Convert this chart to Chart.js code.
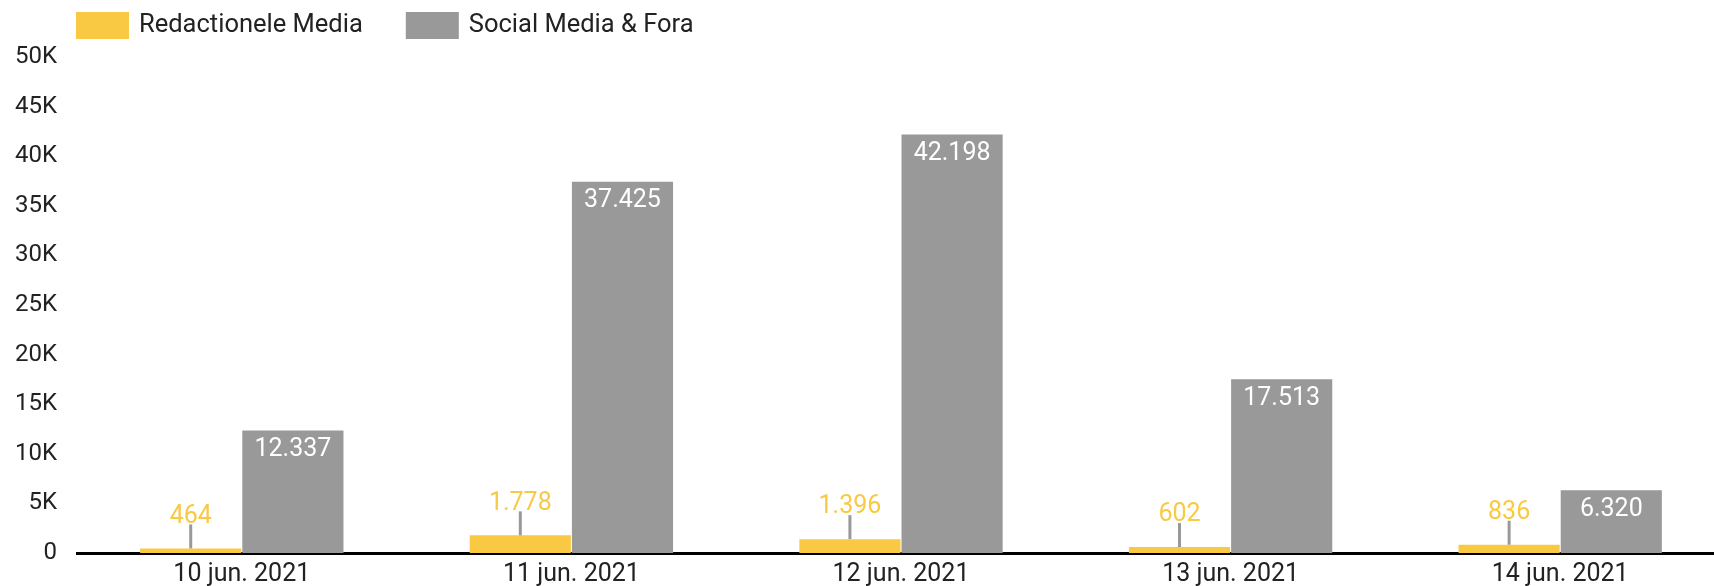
<!DOCTYPE html>
<html>
<head>
<meta charset="utf-8">
<script src="https://cdn.jsdelivr.net/npm/chart.js@4"></script>
<style>
  html, body { margin: 0; padding: 0; background: #fff; overflow: hidden; }
  #wrap { width: 1714px; height: 586px; overflow: hidden; }
</style>
</head>
<body>
<div id="wrap"><canvas id="mediaChart" width="1725" height="586"></canvas></div>
<script>
const categories = ['10 jun. 2021', '11 jun. 2021', '12 jun. 2021', '13 jun. 2021', '14 jun. 2021'];
const seriesNames = ['Redactionele Media', 'Social Media & Fora'];
const redactioneleMedia = [464, 1778, 1396, 602, 836];
const socialMediaFora = [12337, 37425, 42198, 17513, 6320];
const yTicks = [0, 5000, 10000, 15000, 20000, 25000, 30000, 35000, 40000, 45000, 50000];

const YELLOW = '#F9C943';
const GREY = '#999999';
const FONT = 'Roboto, "Noto Sans", sans-serif';

// dutch thousands separator
const fmt = (v) => String(v).replace(/\B(?=(\d{3})+(?!\d))/g, '.');

// legend drawn by hand so it can sit exactly where the reference has it
const legendPlugin = {
  id: 'topLegend',
  afterDraw(chart) {
    const ctx = chart.ctx;
    ctx.save();
    ctx.font = '25.5px ' + FONT;
    ctx.textBaseline = 'middle';
    let x = 76;
    chart.data.datasets.forEach((ds) => {
      ctx.fillStyle = ds.backgroundColor;
      ctx.fillRect(x, 12, 53, 27);
      ctx.fillStyle = '#222';
      ctx.fillText(ds.label, x + 63, 26);
      x += 63 + ctx.measureText(ds.label).width + 43;
    });
    ctx.restore();
  }
};

// value labels: yellow above the bar with a leader line, grey inside the bar top
const valueLabels = {
  id: 'valueLabels',
  afterDatasetsDraw(chart) {
    const ctx = chart.ctx;
    ctx.save();
    ctx.font = '25px ' + FONT;
    ctx.textAlign = 'center';
    ctx.textBaseline = 'middle';
    chart.data.datasets.forEach((ds, di) => {
      const meta = chart.getDatasetMeta(di);
      meta.data.forEach((bar, i) => {
        const txt = fmt(ds.data[i]);
        if (di === 0) {
          ctx.strokeStyle = GREY;
          ctx.lineWidth = 3;
          ctx.beginPath();
          ctx.moveTo(bar.x, bar.y);
          ctx.lineTo(bar.x, bar.y - 24);
          ctx.stroke();
          ctx.fillStyle = YELLOW;
          ctx.fillText(txt, bar.x, bar.y - 32);
        } else {
          ctx.fillStyle = '#fff';
          ctx.fillText(txt, bar.x, bar.y + 19);
        }
      });
    });
    ctx.restore();
  }
};

new Chart(document.getElementById('mediaChart').getContext('2d'), {
  type: 'bar',
  data: {
    labels: categories,
    datasets: [
      { label: seriesNames[0], data: redactioneleMedia, backgroundColor: YELLOW },
      { label: seriesNames[1], data: socialMediaFora, backgroundColor: GREY }
    ]
  },
  options: {
    responsive: false,
    devicePixelRatio: 1,
    animation: false,
    layout: { padding: { top: 57, left: 15, right: 0, bottom: 0 } },
    datasets: { bar: { categoryPercentage: 0.62, barPercentage: 0.99 } },
    plugins: {
      legend: { display: false },
      tooltip: { enabled: false }
    },
    scales: {
      x: {
        grid: { display: false, drawTicks: false },
        border: { display: true, color: '#000', width: 3 },
        ticks: { color: '#222', font: { family: FONT, size: 25, lineHeight: 1.12 }, padding: 8, maxRotation: 0 },
        afterFit: (s) => { s.height = 33; s.paddingLeft = 0; s.paddingRight = 0; }
      },
      y: {
        min: 0,
        max: 50000,
        afterBuildTicks: (axis) => { axis.ticks = yTicks.map(v => ({ value: v })); },
        grid: { display: false, drawTicks: false },
        border: { display: false },
        ticks: {
          color: '#222',
          font: { family: FONT, size: 24 },
          padding: 20,
          callback: (v) => v === 0 ? '0' : (v / 1000) + 'K'
        },
        afterFit: (s) => { s.width = 62; s.paddingTop = 0; s.paddingBottom = 0; }
      }
    }
  },
  plugins: [legendPlugin, valueLabels]
});
</script>
</body>
</html>
